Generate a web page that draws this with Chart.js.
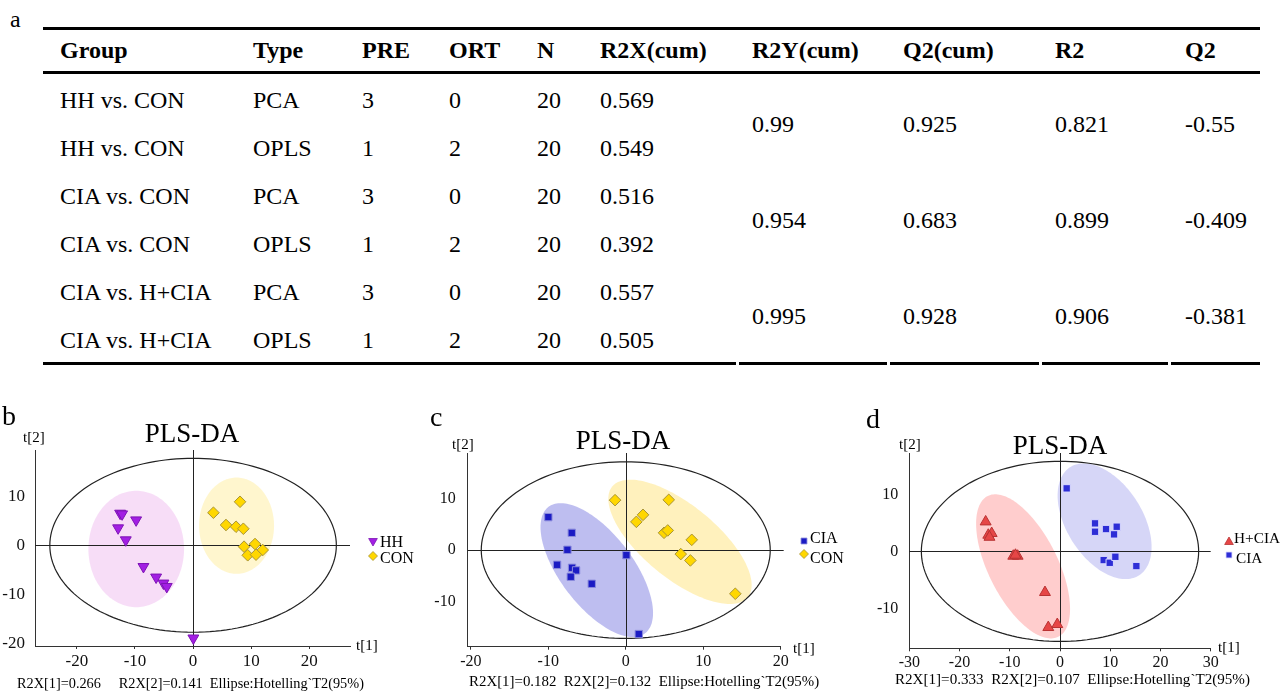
<!DOCTYPE html>
<html><head><meta charset="utf-8">
<script src="https://cdn.jsdelivr.net/npm/chart.js@4.4.1/dist/chart.umd.min.js"></script>
<style>
html,body{margin:0;padding:0;background:#fff;}
body{width:1281px;height:696px;position:relative;overflow:hidden;font-family:'Liberation Serif','Times New Roman',serif;color:#000;}
.t{position:absolute;white-space:pre;line-height:1;}
canvas{position:absolute;}
.rule{position:absolute;background:#000;}
</style></head><body>
<script>
// ---------------- TABLE DATA ----------------
const tableHeaders = ['Group','Type','PRE','ORT','N','R2X(cum)','R2Y(cum)','Q2(cum)','R2','Q2'];
const groups = ['HH vs. CON','HH vs. CON','CIA vs. CON','CIA vs. CON','CIA vs. H+CIA','CIA vs. H+CIA'];
const types = ['PCA','OPLS','PCA','OPLS','PCA','OPLS'];
const preVals = ['3','1','3','1','3','1'];
const ortVals = ['0','2','0','2','0','2'];
const nVals = ['20','20','20','20','20','20'];
const r2xCum = ['0.569','0.549','0.516','0.392','0.557','0.505'];
const r2yCum = ['0.99','0.954','0.995'];
const q2Cum = ['0.925','0.683','0.928'];
const r2Perm = ['0.821','0.899','0.906'];
const q2Perm = ['-0.55','-0.409','-0.381'];

// ---------------- PANEL b : HH vs CON ----------------
const hhBX  = [-12.55,-12.21,-9.8,-12.9,-11.58,-8.54,-6.36,-5.1,-4.53,0.05];
const hhBY  = [6.5,6.36,5.14,3.52,1.08,-4.35,-6.5,-7.72,-8.41,-18.9];
const conBX = [3.5,8.08,5.67,7.39,8.65,8.77,10.66,11.98,9.4,10.83];
const conBY = [6.63,8.86,4.13,3.78,3.37,-0.28,0.26,-0.96,-2.03,-1.91];
const xTicksB = [-20,-10,0,10,20];
const yTicksB = [-20,-10,0,10];
const hotellingB = [24.65,17.7];                       // semi-axes t[1], t[2]
const ellipseB_HH  = [-9.78,-0.75, 8.23,0, 0,11.85];   // cx, cy, u(x,y), v(x,y)
const ellipseB_CON = [7.48,3.99, 6.45,0, 0,9.8];

// ---------------- PANEL c : CIA vs CON ----------------
const ciaCX = [-9.99,-6.97,-7.53,-8.86,-6.93,-6.41,-7.1,-4.39,0.08,1.68];
const ciaCY = [6.38,3.35,0.06,-2.84,-3.42,-3.93,-5.16,-6.52,-0.97,-16.25];
const conCX = [-1.38,5.55,2.23,1.37,4.94,5.42,8.52,7.1,8.34,14.14];
const conCY = [9.67,9.73,6.83,5.47,3.35,3.81,1.99,-0.77,-2.0,-8.45];
const xTicksC = [-20,-10,0,10,20];
const yTicksC = [-10,0,10];
const hotellingC = [18.65,17.1];
const ellipseC_CIA = [-3.74,-3.87, 6.23,-12.24, 3.73,4.27];
const ellipseC_CON = [7.0,1.6, 8.75,-10.7, 3.0,5.51];

// ---------------- PANEL d : H+CIA vs CIA ----------------
const hciaDX = [-14.8,-14.28,-13.6,-14.04,-9.3,-8.43,-8.86,-2.99,-2.33,-0.54];
const hciaDY = [5.19,2.86,3.16,2.5,-0.82,-0.82,-0.65,-7.19,-13.33,-12.8];
const ciaDX  = [1.33,6.97,6.97,9.16,11.29,10.76,8.7,9.9,11.02,15.2];
const ciaDY  = [11.05,4.91,3.44,3.91,4.32,2.98,-1.53,-2.0,-0.95,-2.58];
const xTicksD = [-30,-20,-10,0,10,20,30];
const yTicksD = [-10,0,10];
const hotellingD = [27.6,15.8];
const ellipseD_HCIA = [-7.35,-2.63, 7.01,-12.35, 6.19,2.70];
const ellipseD_CIA  = [8.88,5.28, 6.81,-9.51, 6.41,3.53];

const FONT = "'Liberation Serif','Times New Roman',serif";

// ---------- text helper (positions by baseline) ----------
function txt(str, x, baseline, size, o) {
  o = o || {};
  const d = document.createElement('div');
  d.className = 't';
  d.textContent = str;
  d.style.fontSize = size + 'px';
  d.style.top = (baseline - 0.8375 * size) + 'px';
  d.style.left = x + 'px';
  if (o.bold) d.style.fontWeight = 'bold';
  if (o.center) d.style.transform = 'translateX(-50%)';
  if (o.color) d.style.color = o.color;
  document.body.appendChild(d);
  return d;
}
function rule(x, y, w, h) {
  const d = document.createElement('div');
  d.className = 'rule';
  d.style.left = x + 'px'; d.style.top = y + 'px';
  d.style.width = w + 'px'; d.style.height = h + 'px';
  document.body.appendChild(d);
}

// ---------------- TABLE LAYOUT ----------------
(function () {
  const colX = [60,253,362,449,537,600,752,903,1055,1185];
  const fs = 24;
  txt('a', 10, 27, 24);
  rule(43, 27, 1217, 3);
  rule(43, 71, 1217, 2.5);
  const bSeg = [[43,736],[739,887],[890,1039],[1042,1168],[1171,1260]];
  bSeg.forEach(s => rule(s[0], 361.5, s[1] - s[0], 3));
  tableHeaders.forEach((h, j) => txt(h, colX[j], 58, fs, {bold: true}));
  const rowC = [100,148,196,244,292,340];
  const cols = [groups, types, preVals, ortVals, nVals, r2xCum];
  rowC.forEach((c, i) => cols.forEach((arr, j) => txt(arr[i], colX[j], c + 8, fs)));
  const mergedC = [124,220,316];
  const mcols = [r2yCum, q2Cum, r2Perm, q2Perm];
  mergedC.forEach((c, i) => mcols.forEach((arr, j) => txt(arr[i], colX[6 + j], c + 8, fs)));
})();

// ---------------- CHART HELPERS ----------------
function ellipsePath(ctx, xs, ys, e) {
  const [cx, cy, ux, uy, vx, vy] = e;
  ctx.beginPath();
  const N = 160;
  for (let k = 0; k <= N; k++) {
    const t = k / N * Math.PI * 2;
    const dx = cx + Math.cos(t) * ux + Math.sin(t) * vx;
    const dy = cy + Math.cos(t) * uy + Math.sin(t) * vy;
    const px = xs.getPixelForValue(dx), py = ys.getPixelForValue(dy);
    if (k === 0) ctx.moveTo(px, py); else ctx.lineTo(px, py);
  }
  ctx.closePath();
}

const overlay = {
  id: 'overlay',
  beforeDatasetsDraw(chart, args, opts) {
    const ctx = chart.ctx, a = chart.chartArea, xs = chart.scales.x, ys = chart.scales.y;
    ctx.save();
    opts.groups.forEach(g => {
      ellipsePath(ctx, xs, ys, g.e);
      ctx.fillStyle = g.color;
      ctx.fill();
    });
    ellipsePath(ctx, xs, ys, [0, 0, opts.hot[0], 0, 0, opts.hot[1]]);
    ctx.strokeStyle = '#222'; ctx.lineWidth = 1.2; ctx.stroke();
    const x0 = xs.getPixelForValue(0), y0 = ys.getPixelForValue(0);
    ctx.beginPath();
    ctx.moveTo(Math.round(x0) + 0.5, a.top); ctx.lineTo(Math.round(x0) + 0.5, a.bottom);
    ctx.moveTo(a.left, Math.round(y0) + 0.5); ctx.lineTo(a.right + (opts.hExtra || 0), Math.round(y0) + 0.5);
    ctx.strokeStyle = '#222'; ctx.lineWidth = 1; ctx.stroke();
    ctx.restore();
  },
  afterDraw(chart, args, opts) {
    const ctx = chart.ctx;
    ctx.save();
    chart.data.datasets.forEach((ds, i) => {
      ctx.fillStyle = ds.backgroundColor;
      ctx.strokeStyle = ds.borderColor;
      ctx.lineWidth = 0.8;
      Chart.helpers.drawPoint(ctx, {pointStyle: ds.pointStyle, rotation: ds.rotation || 0,
        radius: opts.legendR[i], borderWidth: 0.8}, opts.legendX, opts.legendY[i]);
    });
    ctx.restore();
  }
};

const Y_W = 34, X_H = 25;
function makePanel(p) {
  const cv = document.createElement('canvas');
  cv.width = p.cv[2]; cv.height = p.cv[3];
  cv.style.left = p.cv[0] + 'px'; cv.style.top = p.cv[1] + 'px';
  cv.style.width = p.cv[2] + 'px'; cv.style.height = p.cv[3] + 'px';
  document.body.appendChild(cv);
  const pad = {
    left: p.area[0] - p.cv[0] - Y_W,
    top: p.area[1] - p.cv[1],
    right: p.cv[0] + p.cv[2] - p.area[2],
    bottom: p.cv[1] + p.cv[3] - p.area[3] - X_H
  };
  const datasets = p.series.map(s => ({
    label: s.label,
    data: s.xs.map((x, i) => ({x: x, y: s.ys[i]})),
    pointStyle: s.style, rotation: s.rot || 0,
    pointRadius: s.r, pointHoverRadius: s.r,
    backgroundColor: s.fill, borderColor: s.stroke, borderWidth: 1
  }));
  new Chart(cv, {
    type: 'scatter',
    data: {datasets},
    options: {
      responsive: false, animation: false, devicePixelRatio: 1,
      layout: {padding: pad},
      plugins: {legend: {display: false}, tooltip: {enabled: false}, title: {display: false},
        overlay: p.overlay},
      scales: {
        x: {
          type: 'linear', min: p.xr[0], max: p.xr[1],
          afterBuildTicks: s => { s.ticks = p.xTicks.map(v => ({value: v})); },
          afterFit: s => { s.height = X_H; },
          grid: {display: true, drawOnChartArea: false, drawTicks: true, tickLength: 3, color: '#333'},
          border: {display: true, color: '#333', width: 1},
          ticks: {font: {family: FONT, size: p.tickSize}, color: '#111', padding: 2, maxRotation: 0, autoSkip: false,
            callback: v => String(v)}
        },
        y: {
          type: 'linear', min: p.yr[0], max: p.yr[1],
          afterBuildTicks: s => { s.ticks = p.yTicks.map(v => ({value: v})); },
          afterFit: s => { s.width = Y_W; },
          grid: {display: false},
          border: {display: true, color: '#333', width: 1},
          ticks: {font: {family: FONT, size: p.tickSize}, color: '#111', padding: p.yPad, autoSkip: false,
            callback: v => String(v)}
        }
      }
    },
    plugins: [overlay]
  });
}

// ---------------- PANEL b ----------------
makePanel({
  cv: [0, 400, 430, 296], area: [35, 450, 350, 646],
  xr: [-27.2, 27.0], yr: [-20.5, 19.4], xTicks: xTicksB, yTicks: yTicksB, tickSize: 17, yPad: 2,
  series: [
    {label: 'HH', xs: hhBX, ys: hhBY, style: 'triangle', rot: 180, r: 6.3, fill: '#A21FE3', stroke: '#7E14B5'},
    {label: 'CON', xs: conBX, ys: conBY, style: 'rectRot', r: 5.8, fill: '#FFD700', stroke: '#A89436'}
  ],
  overlay: {hot: hotellingB, groups: [
    {e: ellipseB_HH, color: 'rgba(234,160,234,0.36)'},
    {e: ellipseB_CON, color: 'rgba(255,228,110,0.34)'}],
    legendX: 373, legendY: [141, 156], legendR: [5, 4.5]}
});
txt('b', 2, 425, 28);
txt('PLS-DA', 192, 443, 27, {center: true});
txt('t[2]', 23, 443, 15);
txt('t[1]', 356, 651, 15);
txt('HH', 380, 547, 16);
txt('CON', 380, 563, 16);
txt('R2X[1]=0.266     R2X[2]=0.141  Ellipse:Hotelling`T2(95%)', 17, 688, 14.3);

// ---------------- PANEL c ----------------
makePanel({
  cv: [425, 400, 430, 296], area: [467.7, 453, 780.7, 646.7],
  xr: [-20.4, 20.0], yr: [-18.7, 18.8], xTicks: xTicksC, yTicks: yTicksC, tickSize: 16, yPad: 4,
  series: [
    {label: 'CIA', xs: ciaCX, ys: ciaCY, style: 'rect', r: 5.2, fill: '#1B1BC4', stroke: '#8C8CDC'},
    {label: 'CON', xs: conCX, ys: conCY, style: 'rectRot', r: 5.8, fill: '#FFD700', stroke: '#A89436'}
  ],
  overlay: {hot: hotellingC, hExtra: 3, groups: [
    {e: ellipseC_CIA, color: 'rgba(100,100,220,0.42)'},
    {e: ellipseC_CON, color: 'rgba(255,220,90,0.40)'}],
    legendX: 379, legendY: [141, 154], legendR: [4.2, 4.5]}
});
txt('c', 430, 426, 28);
txt('PLS-DA', 623, 450, 27, {center: true});
txt('t[2]', 452, 450, 15);
txt('t[1]', 793, 654, 15);
txt('CIA', 810, 543, 16);
txt('CON', 810, 563, 16);
txt('R2X[1]=0.182  R2X[2]=0.132  Ellipse:Hotelling`T2(95%)', 469, 686, 14.9);

// ---------------- PANEL d ----------------
makePanel({
  cv: [850, 400, 431, 296], area: [909.3, 453, 1210.7, 648.3],
  xr: [-30, 30], yr: [-17.0, 17.25], xTicks: xTicksD, yTicks: yTicksD, tickSize: 16, yPad: 3,
  series: [
    {label: 'H+CIA', xs: hciaDX, ys: hciaDY, style: 'triangle', rot: 0, r: 6.3, fill: '#E64646', stroke: '#B83232'},
    {label: 'CIA', xs: ciaDX, ys: ciaDY, style: 'rect', r: 5.2, fill: '#2E2ED6', stroke: '#D8D8FF'}
  ],
  overlay: {hot: hotellingD, groups: [
    {e: ellipseD_HCIA, color: 'rgba(255,100,100,0.32)'},
    {e: ellipseD_CIA, color: 'rgba(120,120,230,0.30)'}],
    legendX: 379, legendY: [142, 155], legendR: [5, 4.2]}
});
txt('d', 866, 428, 28);
txt('PLS-DA', 1060, 455, 27, {center: true});
txt('t[2]', 899, 450, 15);
txt('t[1]', 1218, 653, 15);
txt('H+CIA', 1234, 543, 15.3);
txt('CIA', 1236, 563, 15.3);
txt('R2X[1]=0.333  R2X[2]=0.107  Ellipse:Hotelling`T2(95%)', 895, 685, 15.1);
</script>
</body></html>
